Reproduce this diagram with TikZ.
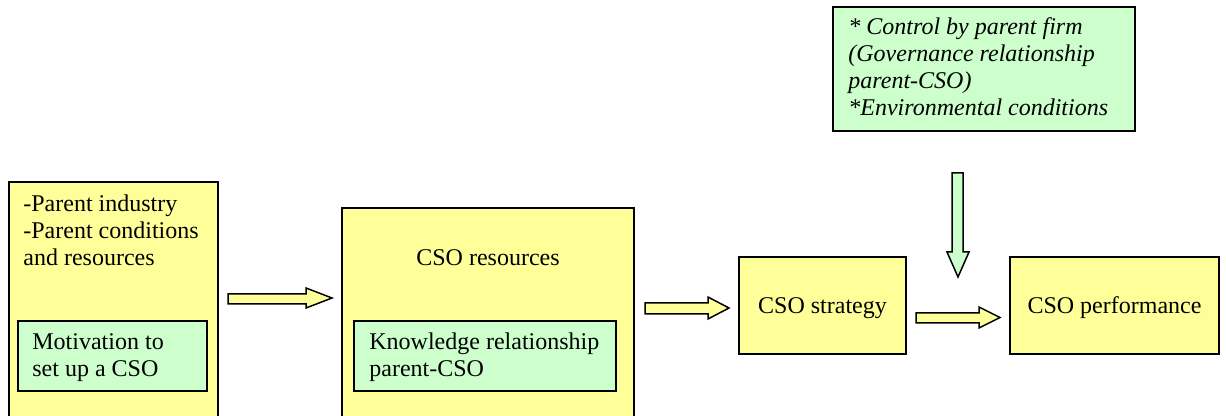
\documentclass[tikz,border=0pt]{standalone}
\usepackage{fontspec}
\setmainfont{Liberation Serif}
\definecolor{boxyellow}{HTML}{FFFF99}
\definecolor{boxgreen}{HTML}{CCFFCC}
\tikzset{
  ybox/.style={draw=black, line width=0.75pt, fill=boxyellow, rectangle, inner sep=0pt},
  gbox/.style={draw=black, line width=0.75pt, fill=boxgreen, rectangle, inner sep=0pt},
  lbl/.style={inner sep=0pt, font=\fontsize{12}{13.4}\selectfont},
  yarrow/.style={draw=black, line width=0.75pt, fill=boxyellow, line join=miter},
  garrow/.style={draw=black, line width=0.75pt, fill=boxgreen, line join=miter}
}
\begin{document}
\begin{tikzpicture}[x=0.5pt, y=-0.5pt]
\useasboundingbox (0,0) rectangle (1226,416);
\clip (0,0) rectangle (1226,416);
% boxes
\node[ybox, minimum width=104.5pt, minimum height=129pt] (parent) at (113.5,311) {};
\node[gbox, minimum width=94.5pt, minimum height=35pt] (motiv) at (112.5,356) {};
\node[ybox, minimum width=146pt, minimum height=116pt] (res) at (488,324) {};
\node[gbox, minimum width=131pt, minimum height=35pt] (know) at (485,356) {};
\node[ybox, minimum width=83.5pt, minimum height=48.5pt] (strat) at (822.5,305.5) {};
\node[ybox, minimum width=104.5pt, minimum height=48.5pt] (perf) at (1114.5,305.5) {};
\node[gbox, minimum width=151pt, minimum height=62pt] (ctrl) at (984,69) {};
% texts
\node[lbl, anchor=base west] (parentT) at (23,212)
  {\vtop{\baselineskip=13.4pt\lineskiplimit=-20pt\hbox{-Parent industry}\hbox{-Parent conditions}\hbox{and resources}}};
\node[lbl, anchor=base west] (motivT) at (32,350)
  {\vtop{\baselineskip=13.4pt\lineskiplimit=-20pt\hbox{Motivation to}\hbox{set up a CSO}}};
\node[lbl, anchor=base] (resT) at (488,266) {CSO resources};
\node[lbl, anchor=base west] (knowT) at (369,350)
  {\vtop{\baselineskip=13.4pt\lineskiplimit=-20pt\hbox{Knowledge relationship}\hbox{parent-CSO}}};
\node[lbl, anchor=base] (stratT) at (822.5,314) {CSO strategy};
\node[lbl, anchor=base] (perfT) at (1114.5,314) {CSO performance};
\node[lbl, anchor=base west, font=\fontsize{12}{13.4}\selectfont\itshape] (ctrlT) at (848,35)
  {\vtop{\baselineskip=13.5pt\lineskiplimit=-20pt\hbox{* Control by parent firm}\hbox{(Governance relationship}\hbox{parent-CSO)}\hbox{*Environmental conditions}}};
% block arrows
\draw[yarrow] (228,294) -- (306,294) -- (306,288) -- (332,298) -- (306,308) -- (306,304) -- (228,304) -- cycle;
\draw[yarrow] (645,303) -- (708,303) -- (708,297) -- (729,308) -- (708,319) -- (708,314) -- (645,314) -- cycle;
\draw[yarrow] (916,313) -- (979,313) -- (979,307) -- (1000,317.5) -- (979,328) -- (979,323) -- (916,323) -- cycle;
\draw[garrow] (952,173) -- (963,173) -- (963,252) -- (969,252) -- (958,277) -- (947,252) -- (952,252) -- cycle;
\end{tikzpicture}
\end{document}
